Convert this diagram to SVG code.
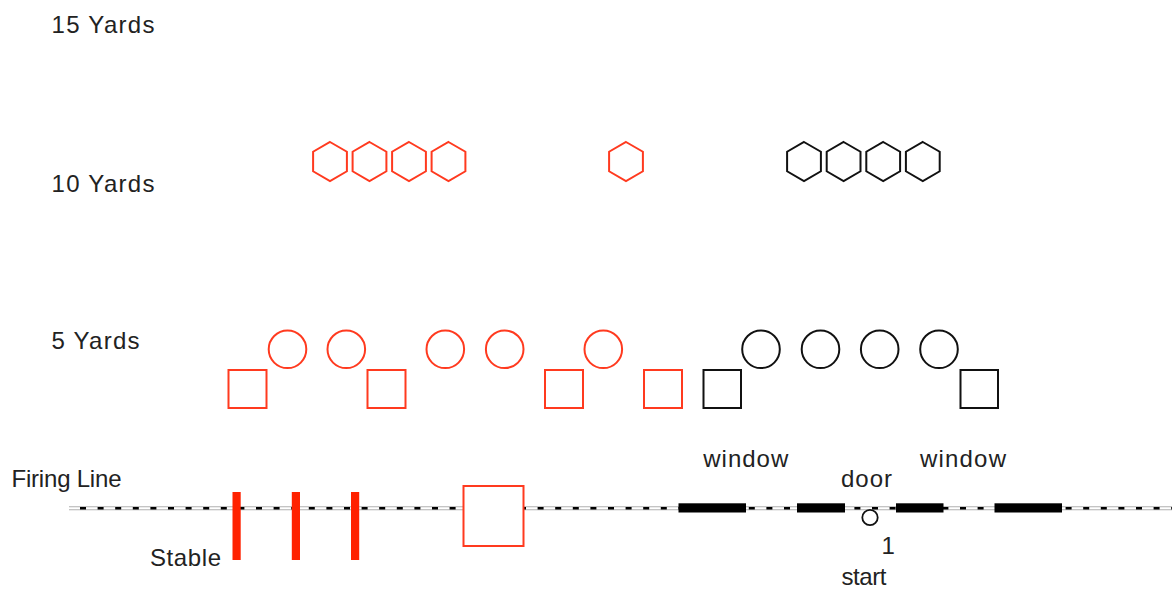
<svg xmlns="http://www.w3.org/2000/svg" width="1172" height="589" viewBox="0 0 1172 589">
<style>
text{font-family:"Liberation Sans",Arial,sans-serif;font-size:24px;fill:#222}
.r{fill:none;stroke:#ff3a1f;stroke-width:2}
.k{fill:none;stroke:#111;stroke-width:2}
.bar{fill:#ff2200}
.win{fill:#000}
</style>
<defs>
<polygon id="hex" points="0,-19.5 16.9,-9.75 16.9,9.75 0,19.5 -16.9,9.75 -16.9,-9.75"/>
</defs>
<rect width="1172" height="589" fill="#fff"/>
<g id="labels">
<text x="51.5" y="33" textLength="103" lengthAdjust="spacing">15 Yards</text>
<text x="51.5" y="191.5" textLength="103" lengthAdjust="spacing">10 Yards</text>
<text x="51.5" y="349" textLength="88" lengthAdjust="spacing">5 Yards</text>
<text x="11.5" y="487" textLength="110" lengthAdjust="spacing">Firing Line</text>
<text x="150" y="566" textLength="71" lengthAdjust="spacing">Stable</text>
</g>
<g id="connectors">
<line x1="69" y1="508.3" x2="1172" y2="508.3" stroke="#b0b0b0" stroke-width="4"/>
<line x1="69" y1="508.3" x2="1172" y2="508.3" stroke="#fff" stroke-width="2"/>
<line x1="69" y1="508.3" x2="1172" y2="508.3" stroke="#000" stroke-width="2.6" stroke-dasharray="6 11.6" stroke-dashoffset="-11"/>
</g>
<g id="hex-red">
<use href="#hex" class="r" x="330" y="161.5"/>
<use href="#hex" class="r" x="369.5" y="161.5"/>
<use href="#hex" class="r" x="409" y="161.5"/>
<use href="#hex" class="r" x="448.5" y="161.5"/>
<use href="#hex" class="r" x="626" y="161.5"/>
</g>
<g id="hex-black">
<use href="#hex" class="k" x="804" y="161.5"/>
<use href="#hex" class="k" x="843.6" y="161.5"/>
<use href="#hex" class="k" x="883.2" y="161.5"/>
<use href="#hex" class="k" x="922.8" y="161.5"/>
</g>
<g id="circles-red">
<circle class="r" cx="287.5" cy="349.3" r="18.8"/>
<circle class="r" cx="346.3" cy="349.3" r="18.8"/>
<circle class="r" cx="445.3" cy="349.3" r="18.8"/>
<circle class="r" cx="504.7" cy="349.3" r="18.8"/>
<circle class="r" cx="603.3" cy="349.3" r="18.8"/>
</g>
<g id="circles-black">
<circle class="k" cx="761" cy="349.3" r="18.8"/>
<circle class="k" cx="820.5" cy="349.3" r="18.8"/>
<circle class="k" cx="879.7" cy="349.3" r="18.8"/>
<circle class="k" cx="939" cy="349.3" r="18.8"/>
</g>
<g id="squares-red">
<rect class="r" x="228.5" y="370" width="38" height="38"/>
<rect class="r" x="367.5" y="370" width="38" height="38"/>
<rect class="r" x="545" y="370" width="38" height="38"/>
<rect class="r" x="644" y="370" width="38" height="38"/>
</g>
<g id="squares-black">
<rect class="k" x="703.5" y="370" width="37.5" height="38"/>
<rect class="k" x="960.5" y="370" width="37.5" height="38"/>
</g>
<g id="stable">
<rect class="bar" x="232.5" y="492" width="8.2" height="68"/>
<rect class="bar" x="291.8" y="492" width="8.2" height="68"/>
<rect class="bar" x="351" y="492" width="8.2" height="68"/>
</g>
<g id="big-square">
<rect x="463.5" y="486" width="60" height="60" fill="#fff" stroke="#ff3a1f" stroke-width="2"/>
</g>
<g id="windows">
<rect class="win" x="678.5" y="503.3" width="67.5" height="9.2"/>
<rect class="win" x="797" y="503.3" width="48" height="9.2"/>
<rect class="win" x="896" y="503.3" width="47.5" height="9.2"/>
<rect class="win" x="994.5" y="503.3" width="67.5" height="9.2"/>
<text x="703.3" y="466.5" textLength="85" lengthAdjust="spacing">window</text>
<text x="920" y="466.5" textLength="86" lengthAdjust="spacing">window</text>
</g>
<g id="door">
<text x="841" y="486.5" textLength="51" lengthAdjust="spacing">door</text>
<circle cx="870" cy="517.5" r="7.7" fill="#fff" stroke="#111" stroke-width="1.8"/>
<text x="881.5" y="553.5">1</text>
<text x="841.5" y="585" textLength="45" lengthAdjust="spacing">start</text>
</g>
</svg>
